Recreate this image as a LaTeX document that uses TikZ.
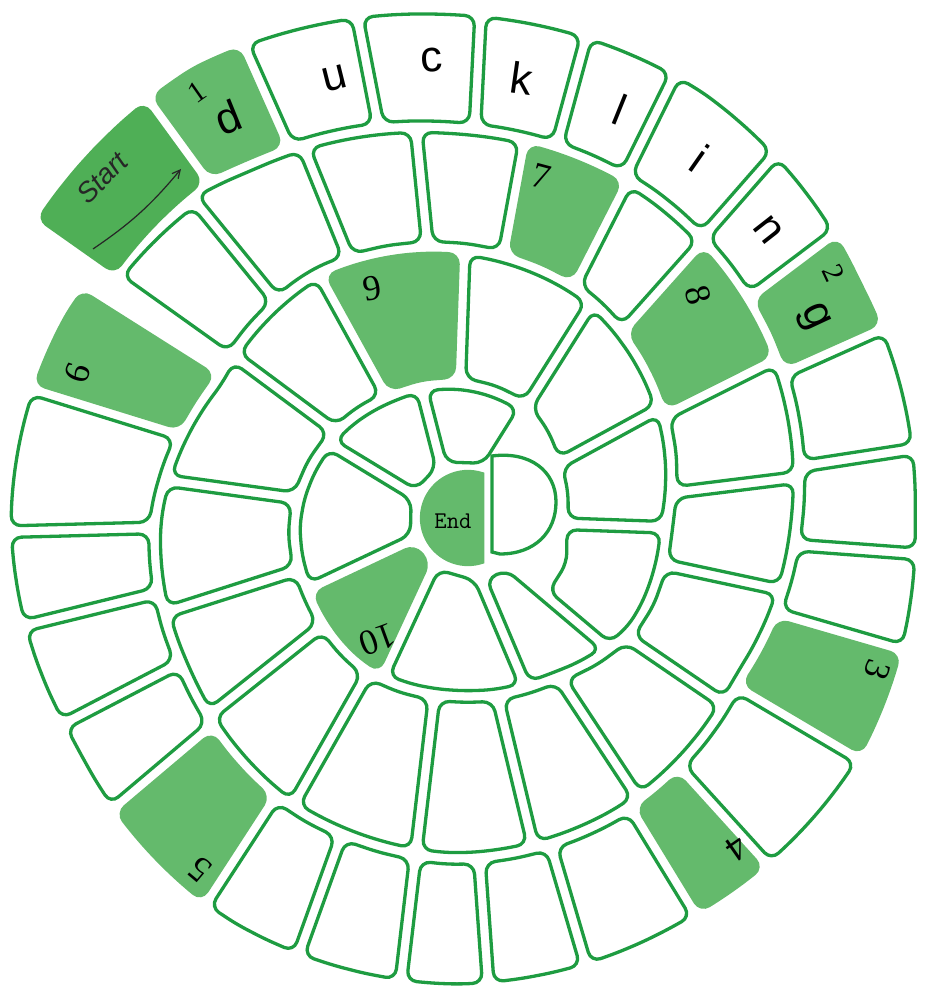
\documentclass[tikz,border=0pt]{standalone}
\usepackage{fontspec}
\newfontfamily\lettfont{Liberation Sans}
\newfontfamily\numfont{Liberation Serif}
\usetikzlibrary{arrows.meta}
\definecolor{gline}{HTML}{1E9C41}
\definecolor{gfill}{HTML}{64BA6C}
\definecolor{sfill}{HTML}{4FAF56}

\newcommand\Sat[1]{\ifcase#1 518\or528\or511\or500\or475\or466\or474\or467\or470\or465\or446\or450\or445\or410\or392\or381\or363\or342\or326\or336\or339\or330\or310\or300\or276\or283\or272\or260\or236\or212\or210\or185\or176\or175\or165\or161\or150\or140\or137\or133\or115\or107\or104\or62\or51\or44\or42\or40\or43\or47\or55\or58\or38\or33\or37\or50\else50\fi}
\newcommand\getS[2]{%
  \pgfmathsetmacro\gSt{(510-(#1))/30}%
  \pgfmathtruncatemacro\gSk{\gSt}%
  \pgfmathsetmacro\gSf{\gSt-\gSk}%
  \edef\gSa{\Sat{\gSk}}%
  \edef\gSb{\Sat{\numexpr\gSk+1\relax}}%
  \pgfmathsetmacro#2{\gSa+\gSf*(\gSb-\gSa)}}
\def\gp{5.8}
\newcommand\cellx[8]{%
  \getS{#1}\cSia\getS{#2}\cSib\getS{#1+360}\cSoa\getS{#2+360}\cSob
  \pgfmathsetmacro\cdia{\gp/(\cSia+(#4)+\gp)*57.2958}%
  \pgfmathsetmacro\cdib{\gp/(\cSib+(#5)+\gp)*57.2958}%
  \pgfmathsetmacro\cdoa{\gp/(\cSoa+(#6)-\gp)*57.2958}%
  \pgfmathsetmacro\cdob{\gp/(\cSob+(#7)-\gp)*57.2958}%
  \pgfmathsetmacro\cia{#1-\cdia}\pgfmathsetmacro\cib{#2+\cdib}%
  \pgfmathsetmacro\coa{#1-\cdoa}\pgfmathsetmacro\cob{#2+\cdob}%
  \pgfmathtruncatemacro\cno{max(1,min(5,abs(\coa-\cob)*\cSoa/57.3/24))}%
  \pgfmathtruncatemacro\cni{max(1,min(5,abs(\cia-\cib)*\cSia/57.3/24))}%
  \pgfmathtruncatemacro\cnim{\cni-1}%
  \foreach \kk in {0,...,\cno}{%
    \pgfmathsetmacro\cFr{\kk/\cno}%
    \pgfmathsetmacro\cAng{\coa+(\cob-\coa)*\cFr}%
    \getS{\cAng+360}\cRad
    \pgfmathsetmacro\cRad{\cRad-\gp+(#6)+((#7)-(#6))*\cFr}%
    \coordinate (#8o\kk) at (\cAng:\cRad);}%
  \foreach \kk in {0,...,\cni}{%
    \pgfmathsetmacro\cFr{\kk/\cni}%
    \pgfmathsetmacro\cAng{\cia+(\cib-\cia)*\cFr}%
    \getS{\cAng}\cRad
    \pgfmathsetmacro\cRad{\cRad+\gp+(#4)+((#5)-(#4))*\cFr}%
    \coordinate (#8i\kk) at (\cAng:\cRad);}%
  \path[#3] (#8o0) \foreach \kk in {1,...,\cno}{-- (#8o\kk)} -- (#8i\cni)
     \foreach \kk in {\cnim,...,0}{-- (#8i\kk)} -- cycle;}

\tikzset{
  bwhite/.style={draw=gline, line width=3.3pt, fill=white, rounded corners=10pt},
  bgreen/.style={draw=gfill, line width=3.3pt, fill=gfill, rounded corners=10pt},
  bstart/.style={draw=sfill, line width=3.3pt, fill=sfill, rounded corners=10pt},
  lab/.style={font=\lettfont\fontsize{44}{44}\selectfont, inner sep=0pt},
  num/.style={font=\numfont\fontsize{36}{36}\selectfont, inner sep=0pt},
  snum/.style={font=\numfont\fontsize{30}{30}\selectfont, inner sep=0pt}
}

\begin{document}
\begin{tikzpicture}[x=1pt,y=1pt]
\useasboundingbox (0,0) rectangle (937,987);
\begin{scope}[shift={(455,467)}]
% ring 1
\cellx{144.8}{126.1}{bstart}{-23}{-2}{0}{0}{start}
\cellx{126.1}{114}{bgreen}{0}{0}{0}{0}{cd}
\cellx{114}{101}{bwhite}{0}{0}{0}{0}{cu}
\cellx{101}{87.1}{bwhite}{0}{0}{0}{0}{cc}
\cellx{87.1}{74.8}{bwhite}{0}{0}{0}{0}{ck}
\cellx{74.8}{63.7}{bwhite}{0}{0}{0}{0}{cl}
\cellx{63.7}{48.8}{bwhite}{0}{0}{0}{0}{ci}
\cellx{48.8}{37}{bwhite}{0}{0}{0}{0}{cn}
\cellx{37}{24.1}{bgreen}{0}{0}{0}{0}{cg}
\cellx{24.1}{8.8}{bwhite}{0}{0}{0}{0}{wa}
\cellx{8.8}{-4.2}{bwhite}{0}{0}{0}{0}{wb}
\cellx{-4.2}{-16.2}{bwhite}{0}{0}{0}{0}{wc}
\cellx{-16.2}{-30.6}{bgreen}{0}{0}{0}{0}{cthree}
\cellx{-30.6}{-47.8}{bwhite}{0}{0}{0}{0}{wd}
\cellx{-47.8}{-58.6}{bgreen}{0}{0}{0}{0}{cfour}
\cellx{-58.6}{-73.6}{bwhite}{0}{0}{0}{0}{ba}
\cellx{-73.6}{-85.9}{bwhite}{0}{0}{0}{0}{bb}
\cellx{-85.9}{-96.7}{bwhite}{0}{0}{0}{0}{bc}
\cellx{-96.7}{-109.8}{bwhite}{0}{0}{0}{0}{bd}
\cellx{-109.8}{-123}{bwhite}{0}{0}{0}{0}{be}
\cellx{-123}{-139.8}{bgreen}{0}{0}{0}{0}{cfive}
\cellx{-139.8}{-152.5}{bwhite}{0}{0}{0}{0}{la}
\cellx{-152.5}{-166.2}{bwhite}{0}{0}{0}{0}{lb}
\cellx{-166.2}{-178.5}{bwhite}{0}{0}{0}{0}{lc}
\cellx{-178.5}{-197.2}{bwhite}{0}{0}{0}{0}{ld}
\cellx{-197.2}{-212.3}{bgreen}{0}{0}{0}{0}{csix}
% ring 2
\cellx{-215.5}{-230.8}{bwhite}{0}{0}{-20}{-8}{ra}
\cellx{-230.8}{-247.9}{bwhite}{0}{0}{0}{0}{rb}
\cellx{-247.9}{-264.3}{bwhite}{0}{0}{0}{0}{rc}
\cellx{-264.3}{-280.4}{bwhite}{0}{0}{0}{0}{rd}
\cellx{-280.4}{-297}{bgreen}{0}{0}{0}{0}{cseven}
\cellx{-297}{-311.7}{bwhite}{0}{0}{0}{0}{rf}
\cellx{-311.7}{-333.4}{bgreen}{0}{0}{0}{0}{ceight}
\cellx{-333.4}{-352.9}{bwhite}{0}{0}{0}{0}{rh}
\cellx{-352.9}{-372.1}{bwhite}{0}{0}{0}{0}{ri}
\cellx{-372.1}{-394.3}{bwhite}{0}{0}{0}{0}{rj}
\cellx{-394.3}{-416.6}{bwhite}{0}{0}{0}{0}{rk}
\cellx{-416.6}{-436.5}{bwhite}{0}{0}{0}{0}{rl}
\cellx{-436.5}{-456.7}{bwhite}{0}{0}{0}{0}{rm}
\cellx{-456.7}{-479.6}{bwhite}{0}{0}{0}{0}{rn}
\cellx{-479.6}{-501.5}{bwhite}{0}{0}{0}{0}{ro}
\cellx{-501.5}{-522.3}{bwhite}{0}{0}{0}{0}{rp}
\cellx{-522.3}{-547.8}{bwhite}{0}{0}{0}{0}{rq}
\cellx{-547.8}{-576.6}{bwhite}{0}{0}{0}{0}{rr}
% ring 3
\cellx{-576.6}{-601.1}{bwhite}{0}{0}{0}{0}{sa}
\cellx{-601.1}{-632}{bgreen}{0}{0}{0}{0}{cnine}
\cellx{-632}{-662.2}{bwhite}{0}{0}{0}{0}{sb}
\cellx{-662.2}{-691.4}{bwhite}{0}{0}{0}{0}{sc}
\cellx{-691.4}{-722}{bwhite}{0}{0}{0}{0}{sd}
\cellx{-722}{-760}{bwhite}{0}{18}{0}{0}{se}
\cellx{-760}{-787}{bwhite}{-18}{0}{0}{0}{sf}
\cellx{-787}{-834.8}{bwhite}{0}{0}{0}{0}{sg}
\cellx{-834.8}{-874.7}{bgreen}{0}{0}{0}{0}{cten}
\cellx{-874.7}{-931.4}{bwhite}{0}{0}{0}{0}{sh}
\cellx{-931.4}{-975.7}{bwhite}{0}{0}{0}{0}{si}
\cellx{-975.7}{-1022}{bwhite}{0}{0}{0}{0}{sj}
\end{scope}
% half disc beside End
\coordinate (hda) at (492,435);
\coordinate (hdb) at (492,531);
\path[bwhite, sharp corners] (hda) -- (hdb) .. controls (530,536) and (556,516) .. (556,485)
   .. controls (556,455) and (535,433) .. (500,433) -- cycle;
% End
\coordinate (endc) at (468,469);
\path[bgreen, sharp corners] (endc) ++(71.6:46.5) arc[start angle=71.6, end angle=288.4, radius=46.5] -- cycle;
\node[font=\ttfamily\fontsize{24}{24}\selectfont, inner sep=0pt] (endt) at (453,466) {End};
% Start
\node[font=\lettfont\itshape\fontsize{28}{28}\selectfont, inner sep=0pt, rotate=46, text=black!85] (startt) at (102,809) {Start};
\coordinate (sa1) at (93,738);
\coordinate (sb1) at (181,818);
\draw[-{Straight Barb[length=8pt,width=8pt]}, line width=1.2pt, black!85] (sa1) to[bend right=8] (sb1);
% letters
\node[snum, rotate=35] (n1) at (197,895) {1};
\node[lab, rotate=22] (ld) at (228,870) {d};
\node[lab, rotate=14] (lu) at (335,909) {u};
\node[lab, rotate=4] (lc) at (432,927) {c};
\node[lab, rotate=-8] (lk) at (522,909) {k};
\node[lab, rotate=-22] (ll) at (620,877) {l};
\node[lab, rotate=-35] (li) at (700,829) {i};
\node[lab, rotate=-52] (ln) at (768,757) {n};
\node[snum, rotate=-65] (n2) at (834,714) {2};
\node[lab, rotate=-65] (lg) at (813,669) {g};
% numbers
\node[num, rotate=-110] (n3) at (877,317) {3};
\node[num, rotate=-145] (n4) at (737,139) {4};
\node[num, rotate=140] (n5) at (200,117) {5};
\node[num, rotate=70] (n6) at (78,614) {6};
\node[num, rotate=-15] (n7) at (541,811) {7};
\node[num, rotate=-75] (n8) at (698,692) {8};
\node[num, rotate=10] (n9) at (372,699) {9};
\node[num, rotate=-160] (n10) at (378,347) {10};
\end{tikzpicture}
\end{document}
